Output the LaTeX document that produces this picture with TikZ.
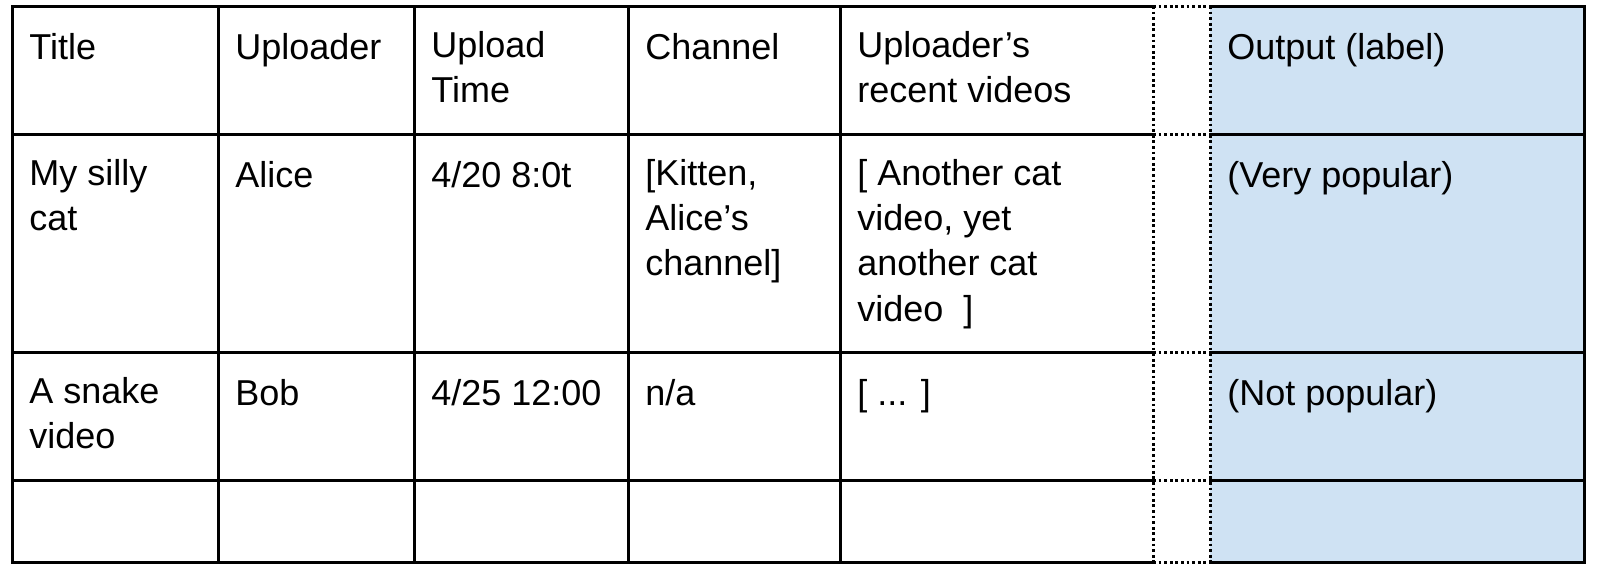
\documentclass[tikz,border=0pt]{standalone}
\usepackage{fontspec}
\setmainfont{Liberation Sans}
\usepackage{xcolor}
\usepackage{tikz}

\definecolor{outblue}{RGB}{207,226,243}

\tikzset{
    cell/.style={anchor=north west, align=left, inner sep=0pt,
        font=\fontsize{18pt}{22.6pt}\selectfont,
        execute at begin node={\rule{0pt}{14pt}}},
    rule/.style={line width=1.5pt, line cap=rect},
    gap/.style={line width=1.5pt, dash pattern=on 1.4pt off 1.4pt}
}

\begin{document}
\begin{tikzpicture}[x=0.5pt, y=-0.5pt]
        \useasboundingbox (0, 0) rectangle (1598, 570);

        \fill[outblue] (1210, 6) rectangle (1584, 562);

        \draw[rule] (12, 6) -- (1153, 6);
        \draw[rule] (12, 134) -- (1153, 134);
        \draw[rule] (12, 352) -- (1153, 352);
        \draw[rule] (12, 480) -- (1153, 480);
        \draw[rule] (12, 562) -- (1153, 562);

        \draw[rule] (1210, 6) -- (1584, 6);
        \draw[rule] (1210, 134) -- (1584, 134);
        \draw[rule] (1210, 352) -- (1584, 352);
        \draw[rule] (1210, 480) -- (1584, 480);
        \draw[rule] (1210, 562) -- (1584, 562);

        \draw[rule] (12, 6) -- (12, 562);
        \draw[rule] (218, 6) -- (218, 562);
        \draw[rule] (414, 6) -- (414, 562);
        \draw[rule] (628, 6) -- (628, 562);
        \draw[rule] (840, 6) -- (840, 562);
        \draw[rule] (1584, 6) -- (1584, 562);

        \draw[gap] (1153, 6) -- (1153, 562);
        \draw[gap] (1210, 6) -- (1210, 562);
        \draw[gap] (1153, 6) -- (1210, 6);
        \draw[gap] (1153, 134) -- (1210, 134);
        \draw[gap] (1153, 352) -- (1210, 352);
        \draw[gap] (1153, 480) -- (1210, 480);
        \draw[gap] (1153, 562) -- (1210, 562);

        \node[cell] (title) at (29, 31) {Title};
        \node[cell] (uploader) at (235, 31) {Uploader};
        \node[cell] (uptime) at (431, 31) {Upload\\Time};
        \node[cell] (channel) at (645, 31) {Channel};
        \node[cell] (recent) at (857, 31) {Uploader’s\\recent videos};
        \node[cell] (output) at (1227, 31) {Output (label)};

        \node[cell] (cattitle) at (29, 159) {My silly\\cat};
        \node[cell] (alice) at (235, 159) {Alice};
        \node[cell] (cattime) at (431, 159) {4/20 8:0t};
        \node[cell] (catchannel) at (645, 159) {[Kitten,\\Alice’s\\channel]};
        \node[cell] (catrecent) at (857, 159)
            {[ Another cat\\video, yet\\another cat\\video\ \ ]};
        \node[cell] (catlabel) at (1227, 159) {(Very popular)};

        \node[cell] (snaketitle) at (29, 377) {A snake\\video};
        \node[cell] (bob) at (235, 377) {Bob};
        \node[cell] (snaketime) at (431, 377) {4/25 12:00};
        \node[cell] (snakechannel) at (645, 377) {n/a};
        \node[cell] (snakerecent) at (857, 377) {[ ... ]};
        \node[cell] (snakelabel) at (1227, 377) {(Not popular)};
    \end{tikzpicture}
\end{document}
